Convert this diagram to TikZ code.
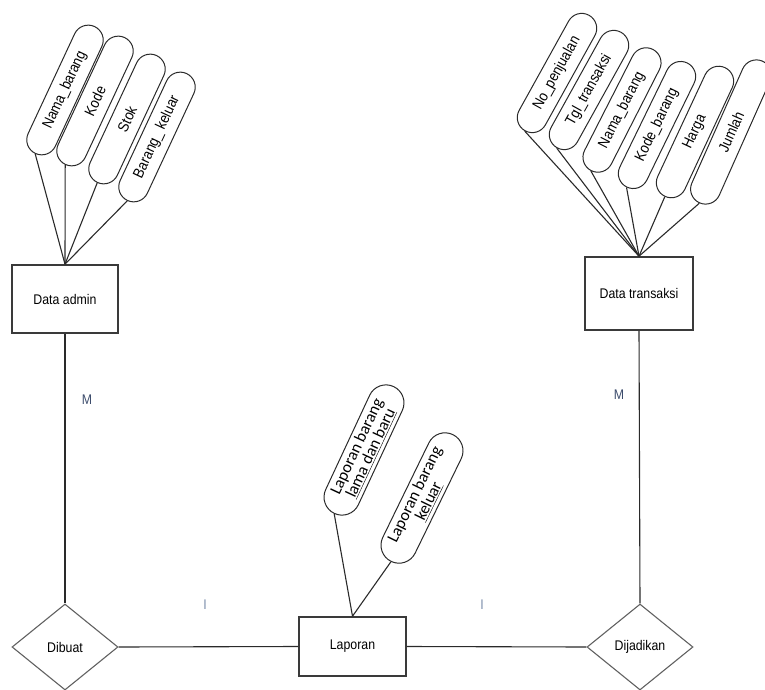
\documentclass[tikz,border=0pt]{standalone}
\usepackage{fontspec}
\setmainfont{Liberation Sans}
\newfontfamily\narrowfont{Liberation Sans}[FakeStretch=0.88]
\newfontfamily\calfont{Carlito}
\usetikzlibrary{shapes.geometric}
\definecolor{lineclr}{HTML}{2A2A2A}
\definecolor{boxclr}{HTML}{3A3A3A}
\definecolor{mclr}{HTML}{3C4C6C}
\definecolor{iclr}{HTML}{7A8CAA}
\tikzset{
  entity/.style={draw=boxclr, line width=1.6pt, inner sep=0pt, font=\narrowfont\fontsize{14}{16}\selectfont},
  relation/.style={diamond, draw=boxclr!80, line width=1.1pt, inner sep=0pt, minimum width=106pt, minimum height=86pt, font=\narrowfont\fontsize{14}{16}\selectfont},
  attr/.style={draw=lineclr, line width=1pt, rounded corners=15pt, minimum height=30pt, inner sep=0pt, font=\narrowfont\fontsize{15}{17}\selectfont},
  lattr/.style={draw=lineclr, line width=1pt, rounded corners=18pt, minimum height=36pt, inner sep=0pt, align=center, font=\calfont\fontsize{16.5}{13.5}\selectfont},
  conn/.style={draw=lineclr, line width=1.1pt},
  mcard/.style={text=mclr, font=\narrowfont\fontsize{14}{16}\selectfont},
  icard/.style={text=iclr, font=\narrowfont\fontsize{14}{16}\selectfont}
}
\begin{document}
\begin{tikzpicture}[x=1pt,y=-1pt]
\useasboundingbox (0,0) rectangle (765,690);
% entities
\node[entity, minimum width=106pt, minimum height=68pt] (admin) at (65,299) {Data admin};
\node[entity, minimum width=108pt, minimum height=73pt] (trans) at (639,293.5) {Data transaksi};
\node[entity, minimum width=107pt, minimum height=59pt] (lap) at (352.5,646.5) {Laporan};
% relations
\node[relation] (dibuat) at (65,647) {Dibuat};
\node[relation] (dijadikan) at (640,647) {Dijadikan};
% admin attributes
\node[attr, minimum width=140pt, rotate=65] (a1) at (65,90) {Nama\_barang};
\node[attr, minimum width=140pt, rotate=65] (a2) at (95,101) {Kode};
\node[attr, minimum width=140pt, rotate=65] (a3) at (127,119) {Stok};
\node[attr, minimum width=140pt, rotate=65] (a4) at (157,137) {Barang\_ keluar};
% transaksi attributes
\node[attr, minimum width=132pt, rotate=61] (t1) at (557,73) {No\_penjualan};
\node[attr, minimum width=132pt, rotate=61] (t2) at (589,90) {Tgl\_transaksi};
\node[attr, minimum width=136pt, rotate=63] (t3) at (622,110) {Nama\_barang};
\node[attr, minimum width=138pt, rotate=64] (t4) at (657,125) {Kode\_barang};
\node[attr, minimum width=142pt, rotate=65] (t5) at (695,132) {Harga};
\node[attr, minimum width=155pt, rotate=66] (t6) at (731,132) {Jumlah};
% laporan attributes
\node[lattr, minimum width=140pt, rotate=65] (l1) at (364,450) {Laporan barang\\\underline{lama dan baru}};
\node[lattr, minimum width=141pt, rotate=64] (l2) at (422,498) {Laporan barang\\\underline{keluar}};
% attribute connectors
\foreach \a in {a1,a2,a3,a4} \draw[conn] (\a.west) -- (admin.north);
\foreach \t in {t1,t2,t3,t4,t5,t6} \draw[conn] (\t.west) -- (trans.north);
\foreach \l in {l1,l2} \draw[conn] (\l.west) -- (lap.north);
% relationship connectors
\draw[conn] (admin.south) -- (dibuat.north);
\draw[conn] (dibuat.east) -- (lap.west);
\draw[conn] (lap.east) -- (dijadikan.west);
\draw[conn] (trans.south) -- (dijadikan.north);
% cardinalities
\node[mcard] (m1) at (87,400) {M};
\node[mcard] (m2) at (619,395) {M};
\node[icard] (i1) at (205,605) {I};
\node[icard] (i2) at (482,605) {I};
\end{tikzpicture}
\end{document}
